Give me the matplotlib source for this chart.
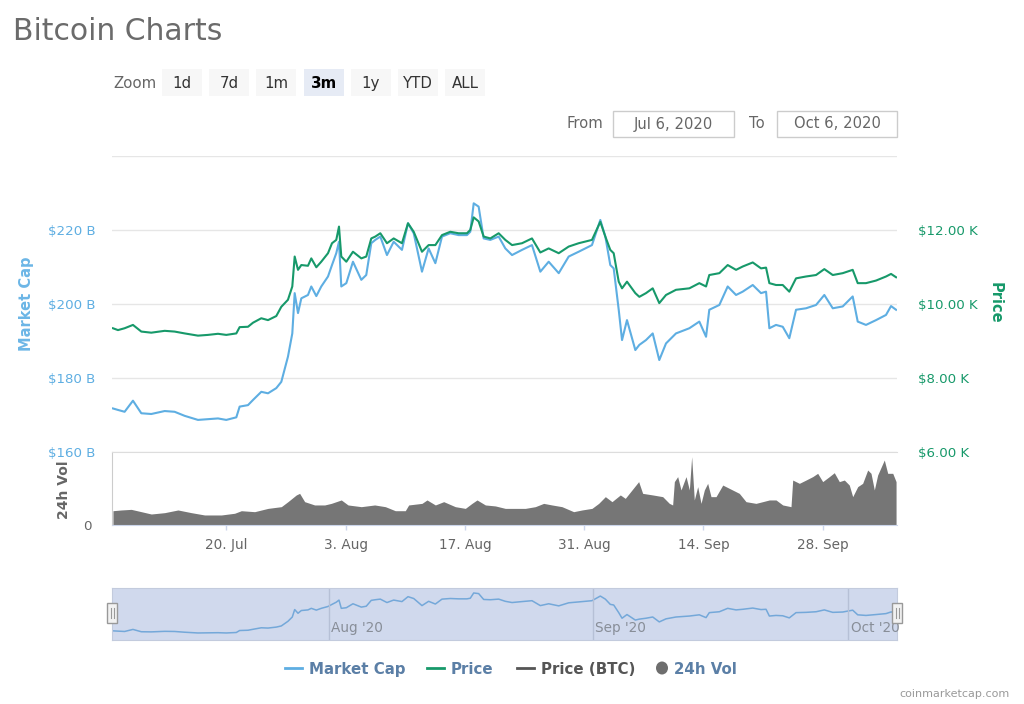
import datetime as dt
import numpy as np
import matplotlib
matplotlib.use("Agg")
import matplotlib.pyplot as plt
import matplotlib.dates as mdates
from matplotlib.lines import Line2D
from matplotlib.patches import Rectangle, Ellipse
from matplotlib.transforms import blended_transform_factory

plt.rcParams['font.family'] = ['DejaVu Sans']

# ---------------- data ----------------
START = dt.datetime(2020, 7, 6)

line_days = [0.70, 1.29, 2.07, 3.05, 4.03, 5.20, 6.77, 7.94, 9.12, 10.68, 11.85, 13.03, 14.00, 15.18,
             15.57, 16.55, 17.14, 18.11, 18.90, 19.87, 20.46, 21.24, 21.75, 22.03, 22.42, 22.81, 23.59,
             23.98, 24.57, 25.15, 25.94, 26.41, 26.91, 27.23, 27.50, 28.09, 28.87, 29.85, 30.43, 31.02,
             31.49, 32.08, 32.86, 33.65, 34.62, 35.33, 36.00, 36.97, 37.75, 38.54, 39.32, 40.29, 41.27,
             42.25, 42.64, 43.04, 43.62, 44.21, 44.99, 45.97, 46.75, 47.54, 48.71, 49.88, 50.86, 51.84,
             53.02, 54.19, 55.36, 56.92, 57.90, 58.49, 59.07, 59.47, 60.06, 60.45, 61.03, 62.01,
             62.48, 63.26, 64.05, 64.82, 65.61, 66.78, 68.35, 69.52, 70.31, 70.69, 71.87, 72.85, 73.83,
             74.61, 75.79, 76.76, 77.35, 77.74, 78.52, 79.31, 80.08, 80.87, 82.04, 83.22, 84.19, 85.18,
             86.35, 87.52, 88.11, 89.08, 90.26, 91.43, 92.02, 92.61]

market_cap_b = [171.7, 171.3, 170.8, 173.8, 170.4, 170.2, 171.0, 170.8, 169.7, 168.6, 168.8, 169.0, 168.6,
                169.3, 172.2, 172.6, 174.0, 176.2, 175.8, 177.2, 178.9, 185.7, 192.0, 202.9, 197.5, 201.5,
                202.4, 204.7, 202.1, 204.7, 207.4, 210.5, 213.7, 216.8, 204.7, 205.6, 211.4, 206.5, 207.8,
                216.4,
                217.3, 218.2, 213.2, 216.8, 214.6, 221.8, 219.1, 208.7, 215.0, 211.0, 218.2, 219.1, 218.6,
                218.6, 219.5, 227.2, 226.3, 217.7, 217.3, 218.2, 215.0, 213.2, 214.6, 215.9, 208.7, 211.4,
                208.3, 212.8, 214.1, 215.9, 222.7, 218.2, 210.5, 209.6, 198.4, 190.2, 195.6, 187.5,
                188.9, 190.2, 192.0, 184.8, 189.3, 192.0, 193.4, 195.2, 191.1, 198.4, 199.7, 204.7, 202.4,
                203.3, 205.1, 202.9, 203.3, 193.4, 194.3, 193.8, 190.7, 198.4, 198.8, 199.7, 202.4, 198.8,
                199.3, 202.0, 195.2, 194.3, 195.6, 197.0, 199.4, 198.4]

price_k = [9.34, 9.29, 9.34, 9.43, 9.25, 9.22, 9.27, 9.25, 9.20, 9.14, 9.16, 9.19, 9.16, 9.20, 9.37, 9.38,
           9.49, 9.61, 9.56, 9.67, 9.92, 10.11, 10.47, 11.28, 10.92, 11.05, 11.03, 11.23, 10.99, 11.14,
           11.37, 11.64, 11.73, 12.09, 11.28, 11.14, 11.41, 11.23, 11.28, 11.77,
           11.82, 11.91, 11.64, 11.77, 11.64, 12.18, 11.95, 11.41, 11.59, 11.59, 11.86, 11.95, 11.91,
           11.91, 12.00, 12.34, 12.23, 11.82, 11.77, 11.91, 11.73, 11.59, 11.64, 11.77, 11.39, 11.50,
           11.37, 11.55, 11.64, 11.73, 12.22, 11.82, 11.46, 11.37, 10.60, 10.42, 10.60, 10.29,
           10.19, 10.29, 10.42, 10.02, 10.24, 10.38, 10.42, 10.56, 10.47, 10.78, 10.83, 11.05, 10.92,
           11.01, 11.12, 10.96, 10.98, 10.56, 10.51, 10.51, 10.33, 10.69, 10.74, 10.78, 10.94, 10.78,
           10.83, 10.92, 10.56, 10.56, 10.63, 10.74, 10.81, 10.72]

vol_days = [0.70, 1.68, 2.85, 4.03, 5.20, 6.77, 8.33, 9.90, 11.46, 13.42, 14.98, 15.77, 17.33, 18.90,
            20.46, 21.24, 22.22, 22.61, 23.20, 24.37, 25.55, 26.33, 27.50, 28.29, 29.85, 31.42,
            32.67, 33.84, 35.01, 35.41, 36.97, 37.56, 38.54, 39.52, 40.88, 42.06, 42.84, 43.43, 44.41,
            45.58, 46.75, 47.92, 49.10, 50.27, 51.25, 52.23, 53.40, 54.77, 55.75, 56.92, 57.71, 58.49,
            59.27, 60.25, 60.83, 61.62, 62.40,
            62.87, 64.05, 65.22, 66.00, 66.39, 66.59, 66.98, 67.37, 67.96, 68.35, 68.62, 68.93, 69.33,
            69.72, 70.11, 70.50, 70.89, 71.48, 72.27, 73.04, 74.21, 75.00, 76.17, 76.96, 77.74, 78.52,
            79.31, 80.28, 80.48, 81.26, 82.04, 82.83, 83.41, 84.00, 84.78, 85.36, 85.95, 86.54, 87.12,
            87.52, 88.11, 88.69, 89.28, 89.67, 90.06, 90.45, 91.23, 91.63, 92.22, 92.61]

volume_b = [11.7, 12.3, 12.8, 10.9, 9.0, 10.1, 12.3, 10.1, 8.2, 8.2, 9.6, 11.7, 10.9, 13.6, 15.0, 19.1,
            24.6, 25.9, 19.1, 16.4, 16.4, 17.7, 20.5, 16.4, 15.0, 16.4,
            15.0, 11.7, 11.7, 16.4, 17.7, 20.5, 16.4, 19.1, 15.0, 13.6, 17.7, 20.5, 16.4, 15.6, 13.6,
            13.6, 13.6, 15.0, 17.7, 16.4, 15.0, 10.9, 12.3, 13.6, 17.7, 23.2, 19.1, 24.6, 21.8, 28.7, 35.5,
            25.9, 24.6, 23.2, 17.7, 16.4, 35.5, 39.6, 28.7, 39.6, 28.7, 55.9, 20.5, 31.4, 17.7, 28.7,
            34.1, 23.2, 23.2, 32.7, 30.0, 25.9, 19.1, 17.7, 19.1, 20.5, 20.5, 16.4, 15.0, 36.8, 34.1,
            36.8, 39.6, 42.3, 35.5, 39.6, 42.8, 35.5, 36.8, 32.7, 23.2, 31.4, 34.1, 45.0, 42.3, 28.7,
            40.9, 53.2, 42.3, 42.3, 35.5]

x_tick_dates = ["2020-07-20", "2020-08-03", "2020-08-17", "2020-08-31", "2020-09-14", "2020-09-28"]
x_tick_labels = ["20. Jul", "3. Aug", "17. Aug", "31. Aug", "14. Sep", "28. Sep"]
mc_ticks = [160, 180, 200, 220, 240]
mc_tick_labels = ["$160 B", "$180 B", "$200 B", "$220 B", ""]
price_ticks = [6, 8, 10, 12]
price_tick_labels = ["$6.00 K", "$8.00 K", "$10.00 K", "$12.00 K"]
nav_dates = ["2020-08-01", "2020-09-01", "2020-10-01"]
nav_labels = ["Aug '20", "Sep '20", "Oct '20"]
zoom_buttons = ["1d", "7d", "1m", "3m", "1y", "YTD", "ALL"]
selected_button = "3m"
legend_labels = ["Market Cap", "Price", "Price (BTC)", "24h Vol"]
from_date, to_date = "Jul 6, 2020", "Oct 6, 2020"

# ---------------- figure ----------------
W, H = 1024, 704
fig = plt.figure(figsize=(W / 100, H / 100), dpi=100)
fig.patch.set_facecolor('white')


def fx(x):
    return x / W


def fy(y):
    return 1 - y / H


def todate(s):
    return mdates.date2num(dt.datetime.fromisoformat(s))


t0 = mdates.date2num(START)
x_line = t0 + np.array(line_days)
x_vol = t0 + np.array(vol_days)
XLIM = (t0 + 0.59, t0 + 92.72)

MC_COLOR = '#5eaee2'
PRICE_COLOR = '#17996a'
VOL_COLOR = '#767676'
GRID = '#e6e6e6'

L, R = 112, 897
TOP, MID, BOT = 156, 451.7, 525

# main panel: market cap (left) and price (right)
ax = fig.add_axes([fx(L), fy(MID), (R - L) / W, (MID - TOP) / H])
ax.plot(x_line, market_cap_b, color=MC_COLOR, lw=1.5, solid_joinstyle='round', zorder=3)
ax.set_xlim(*XLIM)
ax.set_ylim(160, 240)
ax.set_yticks(mc_ticks)
ax.set_yticklabels(mc_tick_labels)
ax.set_xticks([])
ax.grid(axis='y', color=GRID, lw=1)
ax.set_axisbelow(True)
for s in ax.spines.values():
    s.set_visible(False)
ax.tick_params(axis='y', length=0, pad=12, labelsize=9.6, labelcolor=MC_COLOR)

ax_p = ax.twinx()
ax_p.plot(x_line, price_k, color=PRICE_COLOR, lw=1.5, solid_joinstyle='round')
ax_p.set_xlim(*XLIM)
ax_p.set_ylim(6, 14)
ax_p.set_yticks(price_ticks)
ax_p.set_yticklabels(price_tick_labels)
for lab in ax_p.get_yticklabels():
    lab.set_horizontalalignment('left')
for s in ax_p.spines.values():
    s.set_visible(False)
ax_p.tick_params(axis='y', length=0, pad=15, labelsize=9.6, labelcolor=PRICE_COLOR)

fig.text(fx(27), fy(304), 'Market Cap', rotation=90, ha='center', va='center',
         color='#6cb6e6', fontsize=10.5, fontweight='bold')
fig.text(fx(995), fy(303), 'Price', rotation=270, ha='center', va='center',
         color=PRICE_COLOR, fontsize=10.5, fontweight='bold')

# volume panel
ax_v = fig.add_axes([fx(L), fy(BOT), (R - L) / W, (BOT - MID) / H])
ax_v.fill_between(x_vol, 0, volume_b, color=VOL_COLOR, lw=0)
ax_v.set_xlim(*XLIM)
ax_v.set_ylim(0, 60)
ax_v.set_yticks([0])
ax_v.set_yticklabels(['0'])
ax_v.set_xticks([todate(d) for d in x_tick_dates])
ax_v.set_xticklabels(x_tick_labels)
ax_v.spines['top'].set_color('#dddddd')
ax_v.spines['right'].set_visible(False)
ax_v.spines['left'].set_color('#cccccc')
ax_v.spines['bottom'].set_color('#ccd6eb')
ax_v.tick_params(axis='y', length=0, pad=15, labelsize=9.6, labelcolor='#666666')
ax_v.tick_params(axis='x', length=3.6, width=1, color='#ccd6eb', pad=6,
                 labelsize=9.8, labelcolor='#666666')
fig.text(fx(64), fy(490), '24h Vol', rotation=90, ha='center', va='center',
         color='#666666', fontsize=10, fontweight='bold')

# navigator
NT, NB = 588, 640
ax_n = fig.add_axes([fx(L), fy(NB), (R - L) / W, (NB - NT) / H])
ax_n.set_facecolor('#d0d9ed')
ax_n.plot(x_line, market_cap_b, color='#74a8d9', lw=1.1)
ax_n.set_xlim(*XLIM)
ax_n.set_ylim(158.3, 234.5)
ax_n.set_xticks([])
ax_n.set_yticks([])
for s in ax_n.spines.values():
    s.set_color('#c3cbdd')
    s.set_linewidth(0.8)
trans = blended_transform_factory(ax_n.transData, ax_n.transAxes)
for d, lab in zip(nav_dates, nav_labels):
    ax_n.axvline(todate(d), color='#b6c0d6', lw=1)
    ax_n.text(todate(d) + 0.3, 0.23, lab, transform=trans, ha='left', va='center',
              color='#888e98', fontsize=9.8)
for xh in (L, R):
    fig.add_artist(Rectangle((fx(xh - 5), fy(623)), 10 / W, 20 / H, transform=fig.transFigure,
                             fc='#f2f2f2', ec='#999999', lw=1, zorder=5))
    for dx in (-1.5, 1.5):
        fig.add_artist(Line2D([fx(xh + dx)] * 2, [fy(608), fy(618)], transform=fig.transFigure,
                              color='#999999', lw=0.8, zorder=6))

# title
fig.text(fx(13), fy(39.5), 'Bitcoin Charts', ha='left', va='baseline', color='#6b6b6b', fontsize=21.5)

# zoom buttons
fig.text(fx(113), fy(88.5), 'Zoom', ha='left', va='baseline', color='#666666', fontsize=10.8)
for i, b in enumerate(zoom_buttons):
    x0 = 162 + i * 47.2
    sel = (b == selected_button)
    fig.add_artist(Rectangle((fx(x0), fy(96)), 40 / W, 27 / H, transform=fig.transFigure,
                             fc='#e6ebf5' if sel else '#f7f7f7', ec='none'))
    fig.text(fx(x0 + 20), fy(88), b, ha='center', va='baseline', color='#000000' if sel else '#333333',
             fontsize=10.8, fontweight='bold' if sel else 'normal')

# date range inputs
fig.text(fx(566), fy(128.5), 'From', ha='left', va='baseline', color='#666666', fontsize=10.6)
fig.text(fx(749), fy(128.5), 'To', ha='left', va='baseline', color='#666666', fontsize=10.6)
for (x0, x1), txt in zip([(613, 734), (777, 897)], [from_date, to_date]):
    fig.add_artist(Rectangle((fx(x0), fy(137)), (x1 - x0) / W, 26 / H, transform=fig.transFigure,
                             fc='white', ec='#cccccc', lw=1))
    fig.text(fx((x0 + x1) / 2), fy(128.5), txt, ha='center', va='baseline', color='#666666',
             fontsize=10.6)

# legend
LY = 668
leg_colors = [MC_COLOR, PRICE_COLOR, '#555555']
leg_text_colors = ['#5b7fa6', '#5b7fa6', '#555555', '#5b7fa6']
leg_x = [285, 427, 517]
for xs, c, lab, tc in zip(leg_x, leg_colors, legend_labels[:3], leg_text_colors[:3]):
    fig.add_artist(Line2D([fx(xs), fx(xs + 17)], [fy(LY), fy(LY)], transform=fig.transFigure,
                          color=c, lw=2))
    fig.text(fx(xs + 24), fy(674), lab, ha='left', va='baseline', color=tc,
             fontsize=10.8, fontweight='bold')
fig.add_artist(Ellipse((fx(662), fy(LY)), 12 / W, 13 / H, transform=fig.transFigure,
                       fc='#6e6e6e', ec='none'))
fig.text(fx(674), fy(674), legend_labels[3], ha='left', va='baseline', color=leg_text_colors[3],
         fontsize=10.8, fontweight='bold')

# watermark
fig.text(fx(1010), fy(697), 'coinmarketcap.com', ha='right', va='baseline', color='#999999', fontsize=8)

fig.savefig('out.png', dpi=100, facecolor='white')
